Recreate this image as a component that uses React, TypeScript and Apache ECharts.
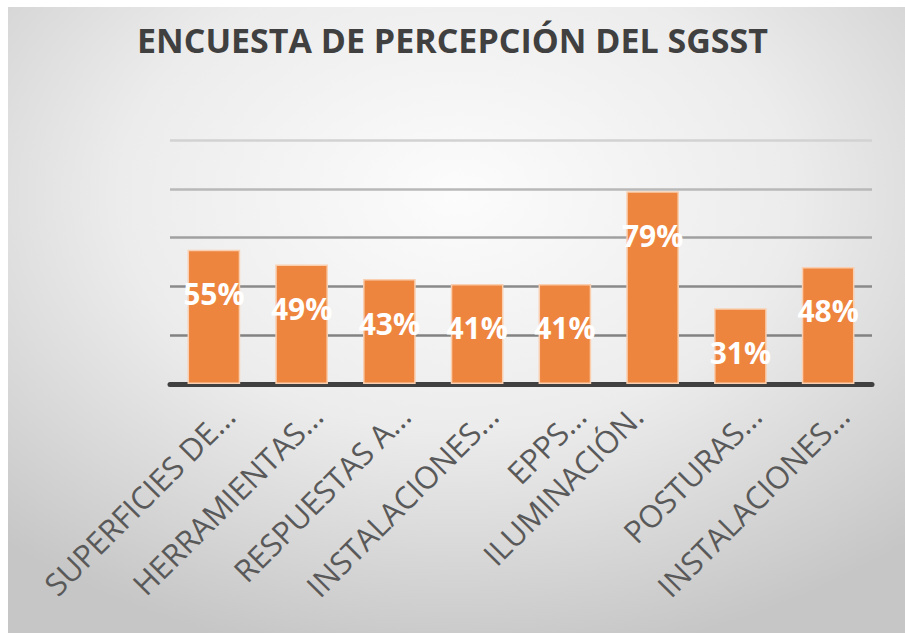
import React, { useEffect, useRef } from "react";
import * as echarts from "echarts";

const titleText = "ENCUESTA DE PERCEPCIÓN DEL SGSST";
const categories = [
  "SUPERFICIES DE...",
  "HERRAMIENTAS...",
  "RESPUESTAS A...",
  "INSTALACIONES...",
  "EPPS...",
  "ILUMINACIÓN.",
  "POSTURAS...",
  "INSTALACIONES...",
];
const values = [55, 49, 43, 41, 41, 79, 31, 48];
const gridColors = ["#7a7a7a", "#828282", "#8a8a8a", "#a0a0a0", "#b8b8b8", "#d2d2d2"];

export default function App() {
  const ref = useRef<HTMLDivElement>(null);
  useEffect(() => {
    if (!ref.current) return;
    const chart = echarts.init(ref.current, null, { renderer: "svg" });
    chart.setOption({
      animation: false,
      graphic: {
        elements: [
          {
            type: "rect",
            z: -100,
            silent: true,
            shape: { x: 8, y: 7, width: 897, height: 626 },
            style: {
              fill: new echarts.graphic.RadialGradient(0.5, 0.3, 0.75, [
                { offset: 0, color: "#fcfcfc" },
                { offset: 0.5, color: "#ececec" },
                { offset: 1, color: "#c6c6c6" },
              ]),
            },
          },
        ],
      },
      title: {
        text: titleText,
        left: "center",
        top: 18,
        textStyle: {
          fontFamily: "Open Sans",
          fontWeight: "bold",
          fontSize: 34,
          color: "#404040",
        },
      },
      grid: { left: 170, right: 33, top: 140, bottom: 251, containLabel: false },
      xAxis: {
        type: "category",
        data: categories.map((c, i) =>
          i === 5 ? { value: c, textStyle: { padding: [6, 22, 0, 0] } } : c
        ),
        axisTick: { show: false },
        axisLine: { lineStyle: { color: "#404040", width: 5 } },
        axisLabel: {
          interval: 0,
          rotate: 45,
          margin: 11,
          verticalAlign: "top",
          padding: [6, 0, 0, 0],
          fontFamily: "Open Sans",
          fontSize: 31,
          color: "#595959",
        },
      },
      yAxis: {
        type: "value",
        min: 0,
        max: 100,
        interval: 20,
        axisLabel: { show: false },
        axisLine: { show: false },
        axisTick: { show: false },
        splitLine: { lineStyle: { color: gridColors, width: 2.5 } },
      },
      series: [
        {
          type: "bar",
          data: values,
          barCategoryGap: "40%",
          itemStyle: { color: "#EE853F", borderColor: "#F9CFB0", borderWidth: 1.5 },
          label: {
            show: true,
            position: "insideTop",
            distance: 29,
            formatter: "{c}%",
            fontFamily: "Open Sans",
            fontWeight: "bold",
            fontSize: 30,
            color: "#ffffff",
          },
        },
      ],
    });
    return () => chart.dispose();
  }, []);
  return (
    <div
      ref={ref}
      style={{ position: "absolute", left: 0, top: 0, width: 905, height: 635 }}
    />
  );
}
